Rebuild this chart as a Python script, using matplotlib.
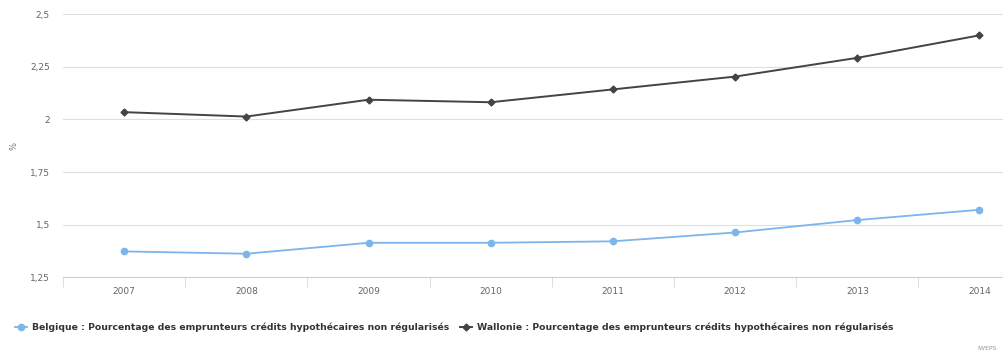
import matplotlib
matplotlib.use("Agg")
import matplotlib.pyplot as plt
from matplotlib.ticker import FixedLocator

years = ["2007", "2008", "2009", "2010", "2011", "2012", "2013", "2014"]
belgique = [1.373, 1.362, 1.414, 1.414, 1.421, 1.463, 1.522, 1.571]
wallonie = [2.035, 2.014, 2.094, 2.082, 2.143, 2.204, 2.293, 2.400]
yticks = [1.25, 1.5, 1.75, 2.0, 2.25, 2.5]
ytick_labels = ["1,25", "1,5", "1,75", "2", "2,25", "2,5"]
label_bel = "Belgique : Pourcentage des emprunteurs crédits hypothécaires non régularisés"
label_wal = "Wallonie : Pourcentage des emprunteurs crédits hypothécaires non régularisés"

W, H = 1004, 354
fig = plt.figure(figsize=(W / 100, H / 100), dpi=100)
fig.patch.set_facecolor("white")

left_px, right_px = 63, 1040.6
top_px, bottom_px = 14.3, 277.3
ax = fig.add_axes([left_px / W, 1 - bottom_px / H, (right_px - left_px) / W, (bottom_px - top_px) / H])

x = list(range(len(years)))
ax.plot(x, belgique, color="#7cb5ec", lw=1.3, marker="o", ms=4.5, zorder=3, label=label_bel)
ax.plot(x, wallonie, color="#434348", lw=1.4, marker="D", ms=3.5, zorder=3, label=label_wal)

ax.set_xlim(-0.5, len(years) - 0.5)
ax.set_ylim(1.25, 2.5)
ax.set_yticks(yticks)
ax.set_yticklabels(ytick_labels)
ax.set_xticks(x)
ax.set_xticklabels(years)
ax.xaxis.set_minor_locator(FixedLocator([i - 0.5 for i in range(len(years) + 1)]))

for s in ["top", "right", "left"]:
    ax.spines[s].set_visible(False)
ax.spines["bottom"].set_color("#d0d0d0")
ax.spines["bottom"].set_linewidth(0.8)

ax.grid(axis="y", color="#dedede", lw=0.8)
ax.set_axisbelow(True)
ax.tick_params(axis="y", length=0, pad=9.5, labelsize=6.5, labelcolor="#666666")
ax.tick_params(axis="x", which="major", length=0, pad=7, labelsize=6.5, labelcolor="#666666")
ax.tick_params(axis="x", which="minor", length=7, width=0.7, color="#dcdcdc", direction="out")

fig.text(14 / W, 1 - 146 / H, "%", rotation=90, ha="center", va="center", fontsize=6, color="#777777")

leg = fig.legend(loc="center left", bbox_to_anchor=(7 / W, 1 - 327 / H), ncol=2, frameon=False,
                 handlelength=1.3, handletextpad=0.55, columnspacing=1.1,
                 prop={"weight": "bold", "size": 6.65})
for t in leg.get_texts():
    t.set_color("#333333")

fig.text(997 / W, 1 - 349 / H, "IWEPS", ha="right", va="center", fontsize=4.5, color="#999999")

fig.savefig("out.png", dpi=100)
